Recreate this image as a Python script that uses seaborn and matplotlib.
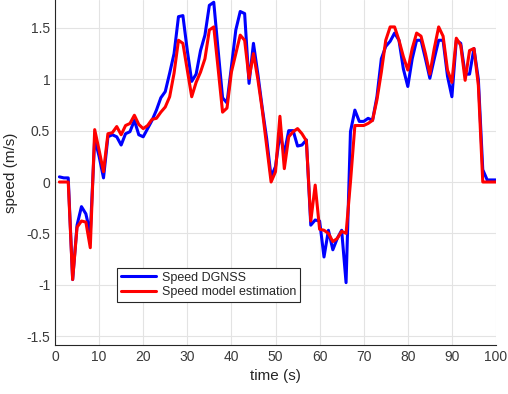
import numpy as np
import pandas as pd
import matplotlib
matplotlib.use("Agg")
import matplotlib.pyplot as plt
import seaborn as sns

# time (s)
time = list(range(1, 101))

# Speed DGNSS (m/s)
speed_dgnss = [
    0.05, 0.04, 0.04, -0.95, -0.42, -0.24, -0.31, -0.50, 0.42, 0.25,
    0.04, 0.44, 0.46, 0.44, 0.36, 0.47, 0.49, 0.60, 0.46, 0.44,
    0.52, 0.60, 0.70, 0.82, 0.88, 1.06, 1.25, 1.61, 1.62, 1.28,
    0.98, 1.05, 1.28, 1.43, 1.72, 1.75, 1.28, 0.82, 0.77, 1.12,
    1.48, 1.66, 1.64, 0.96, 1.35, 1.05, 0.72, 0.42, 0.05, 0.15,
    0.47, 0.28, 0.50, 0.50, 0.35, 0.36, 0.41, -0.42, -0.37, -0.38,
    -0.73, -0.47, -0.66, -0.55, -0.47, -0.98, 0.49, 0.70, 0.59, 0.59,
    0.62, 0.60, 0.83, 1.20, 1.32, 1.37, 1.45, 1.38, 1.10, 0.93,
    1.20, 1.38, 1.38, 1.20, 1.01, 1.20, 1.38, 1.38, 1.03, 0.83,
    1.38, 1.35, 1.05, 1.05, 1.30, 1.00, 0.12, 0.02, 0.02, 0.02,
]

# Speed model estimation (m/s)
speed_model = [
    0.00, 0.00, 0.00, -0.95, -0.44, -0.38, -0.39, -0.64, 0.51, 0.31,
    0.10, 0.47, 0.48, 0.54, 0.46, 0.55, 0.57, 0.65, 0.56, 0.52,
    0.55, 0.61, 0.62, 0.68, 0.73, 0.83, 1.06, 1.38, 1.35, 1.09,
    0.83, 0.97, 1.07, 1.20, 1.48, 1.51, 1.10, 0.68, 0.72, 1.07,
    1.25, 1.43, 1.38, 1.01, 1.25, 1.00, 0.70, 0.35, 0.00, 0.10,
    0.64, 0.13, 0.44, 0.49, 0.52, 0.47, 0.40, -0.38, -0.03, -0.46,
    -0.47, -0.50, -0.58, -0.55, -0.48, -0.50, 0.00, 0.55, 0.55, 0.55,
    0.57, 0.60, 0.80, 1.07, 1.38, 1.51, 1.51, 1.38, 1.22, 1.09,
    1.30, 1.45, 1.42, 1.25, 1.05, 1.30, 1.51, 1.42, 1.09, 0.97,
    1.40, 1.33, 0.99, 1.28, 1.30, 0.94, 0.00, 0.00, 0.00, 0.00,
]

series_names = ["Speed DGNSS", "Speed model estimation"]

df = pd.DataFrame({
    "time": time * 2,
    "speed": speed_dgnss + speed_model,
    "series": [series_names[0]] * len(time) + [series_names[1]] * len(time),
})

sns.set_style("white")
plt.rcParams["font.family"] = ["Liberation Sans", "DejaVu Sans"]

fig = plt.figure(figsize=(5.08, 3.94), dpi=100)
ax = fig.add_axes([55 / 508, 49 / 394, 441 / 508, 345 / 394])

sns.lineplot(
    data=df, x="time", y="speed", hue="series",
    palette={series_names[0]: "#0000ff", series_names[1]: "#ff0000"},
    linewidth=2.2, ax=ax, legend=False,
)

ax.set_xlim(0, 100)
ax.set_ylim(-1.587, 1.772)
ax.set_xticks(np.arange(0, 101, 10))
ax.set_yticks([-1.5, -1, -0.5, 0, 0.5, 1, 1.5])
ax.set_yticklabels(["-1.5", "-1", "-0.5", "0", "0.5", "1", "1.5"])

ax.grid(True, color="#e3e3e3", linewidth=0.8)
ax.set_axisbelow(True)
for side in ["top", "right"]:
    ax.spines[side].set_visible(False)
for side in ["left", "bottom"]:
    ax.spines[side].set_color("#262626")
    ax.spines[side].set_linewidth(0.8)
ax.tick_params(direction="in", length=3, width=0.8, colors="#262626",
               labelsize=10, labelcolor="#3a3a3a")

ax.set_xlabel("time (s)", fontsize=11, color="#262626", labelpad=4)
ax.set_ylabel("speed (m/s)", fontsize=11, color="#262626", labelpad=6)

handles = [plt.Line2D([], [], color="#0000ff", linewidth=2.2),
           plt.Line2D([], [], color="#ff0000", linewidth=2.2)]
leg = ax.legend(handles, series_names, loc="upper left",
                bbox_to_anchor=((117 - 55) / 441, (345 - 268) / 345),
                fontsize=9, frameon=True, fancybox=False, framealpha=1,
                handlelength=2.8, borderpad=0.3, labelspacing=0.2,
                handletextpad=0.5, borderaxespad=0)
leg.get_frame().set_edgecolor("#262626")
leg.get_frame().set_linewidth(0.8)

fig.savefig("out.png", dpi=100)
